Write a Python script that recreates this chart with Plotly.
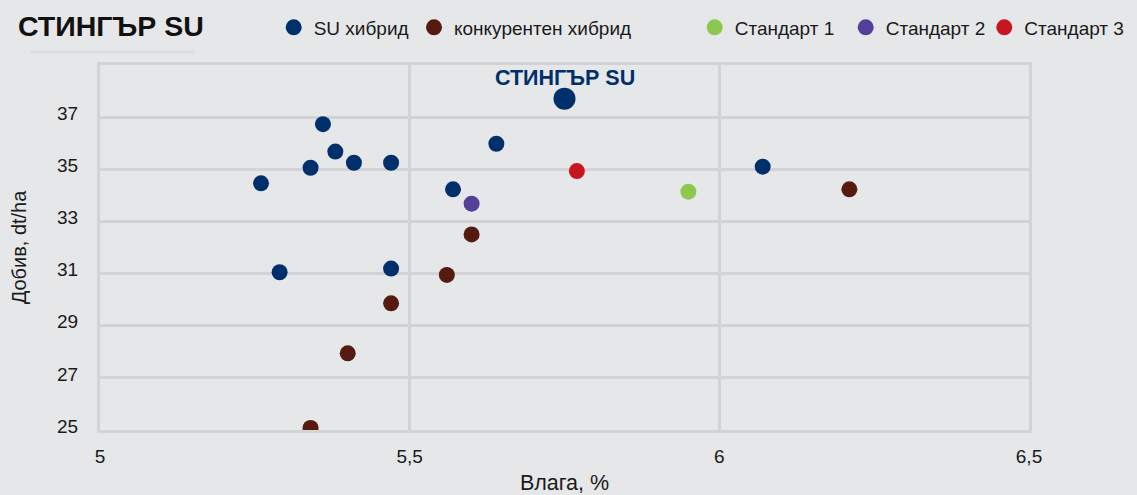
import plotly.graph_objects as go

# ---- data ----
su_x = [5.26, 5.34, 5.36, 5.38, 5.41, 5.47, 5.57, 5.64, 6.07, 5.29, 5.47]
su_y = [34.46, 35.06, 36.73, 35.68, 35.25, 35.25, 34.23, 35.98, 35.10, 31.05, 31.19]

comp_x = [5.60, 6.21, 5.56, 5.47, 5.40, 5.34]
comp_y = [32.50, 34.23, 30.95, 29.86, 27.94, 25.08]

std1_x, std1_y = [5.95], [34.14]
std2_x, std2_y = [5.60], [33.68]
std3_x, std3_y = [5.77], [34.93]

stinger_x, stinger_y = [5.75], [37.71]
stinger_label = "СТИНГЪР SU"

series_names = ["SU хибрид", "конкурентен хибрид", "Стандарт 1", "Стандарт 2", "Стандарт 3"]
title_text = "СТИНГЪР SU"
x_title = "Влага, %"
y_title = "Добив, dt/ha"
x_ticks = [5, 5.5, 6, 6.5]
y_ticks = [25, 27, 29, 31, 33, 35, 37]

# ---- style ----
NAVY = "#00306c"
BROWN = "#561a10"
GREEN = "#8cc850"
PURPLE = "#54409b"
RED = "#c8161e"
BG = "#e6e7e9"
GRID = "#d2d3d5"
FONT = "Liberation Sans, Arial, sans-serif"

W, H = 1137, 495
ML, MR, MT, MB = 100, 108, 65, 65
PW = W - ML - MR
PH = H - MT - MB

def leg_x(center_px):
    left = center_px - 2 - 20
    return (left - ML) / PW

leg_y = 1 + (MT - 27.5) / PH

fig = go.Figure()
specs = [
    (series_names[0], su_x, su_y, NAVY, "legend", 295.7),
    (series_names[1], comp_x, comp_y, BROWN, "legend2", 436.0),
    (series_names[2], std1_x, std1_y, GREEN, "legend3", 716.7),
    (series_names[3], std2_x, std2_y, PURPLE, "legend4", 867.7),
    (series_names[4], std3_x, std3_y, RED, "legend5", 1006.3),
]
for name, xs, ys, col, lg, _ in specs:
    fig.add_trace(go.Scatter(
        x=xs, y=ys, mode="markers", name=name, legend=lg,
        marker=dict(size=16, color=col, line=dict(width=0)),
    ))

fig.add_trace(go.Scatter(
    x=stinger_x, y=stinger_y, mode="markers", showlegend=False,
    marker=dict(size=22, color=NAVY, line=dict(width=0)),
))

legend_common = dict(
    orientation="h", yanchor="middle", y=leg_y, xanchor="left",
    bgcolor="rgba(0,0,0,0)", font=dict(family=FONT, size=19, color="#1a1a1a"),
    borderwidth=0, itemclick=False, itemdoubleclick=False,
)
layout_legends = {}
for i, (name, xs, ys, col, lg, cx) in enumerate(specs):
    layout_legends[lg] = dict(legend_common, x=leg_x(cx))

fig.update_layout(
    width=W, height=H,
    margin=dict(l=ML, r=MR, t=MT, b=MB, autoexpand=False),
    paper_bgcolor=BG, plot_bgcolor=BG,
    separators=", ",
    font=dict(family=FONT, size=18, color="#1a1a1a"),
    title=dict(text=title_text, xref="container", yref="container",
               x=18 / W, xanchor="left", y=1 - 26 / H, yanchor="middle",
               pad=dict(l=0, r=0, t=0, b=0),
               font=dict(family=FONT, size=28.5, color="#111111", weight="bold")),
    xaxis=dict(range=[5, 6.5], tickvals=x_ticks, showgrid=True, gridcolor=GRID,
               gridwidth=3, zeroline=False, showline=True, linecolor=GRID,
               linewidth=3, mirror=True, ticks="", ticklabelstandoff=7,
               automargin=False,
               tickfont=dict(family=FONT, size=19, color="#1a1a1a"),
               title=dict(text=x_title, standoff=14,
                          font=dict(family=FONT, size=21.5, color="#1a1a1a"))),
    yaxis=dict(range=[25, 39], tickvals=y_ticks, showgrid=True, gridcolor=GRID,
               gridwidth=3, zeroline=False, showline=True, linecolor=GRID,
               linewidth=3, mirror=True, ticks="", ticklabelstandoff=15,
               ticklabelshift=-4, automargin=False,
               tickfont=dict(family=FONT, size=19, color="#1a1a1a"),
               title=dict(text=y_title, standoff=26,
                          font=dict(family=FONT, size=20, color="#1a1a1a"))),
    annotations=[dict(x=stinger_x[0], y=stinger_y[0], xref="x", yref="y",
                      text="<b>%s</b>" % stinger_label, showarrow=False,
                      xanchor="center", yanchor="middle", yshift=20.5,
                      font=dict(family=FONT, size=21.5, color=NAVY))],
    shapes=[dict(type="line", xref="paper", yref="paper",
                 x0=(30 - ML) / PW, x1=(195 - ML) / PW,
                 y0=1 + (MT - 52) / PH, y1=1 + (MT - 52) / PH,
                 line=dict(color="rgba(0,0,0,0.035)", width=3))],
    **layout_legends,
)

fig.write_html("out.html", config={"displayModeBar": False},
               post_script="document.body.style.margin='0';document.body.style.background='%s';" % BG)
